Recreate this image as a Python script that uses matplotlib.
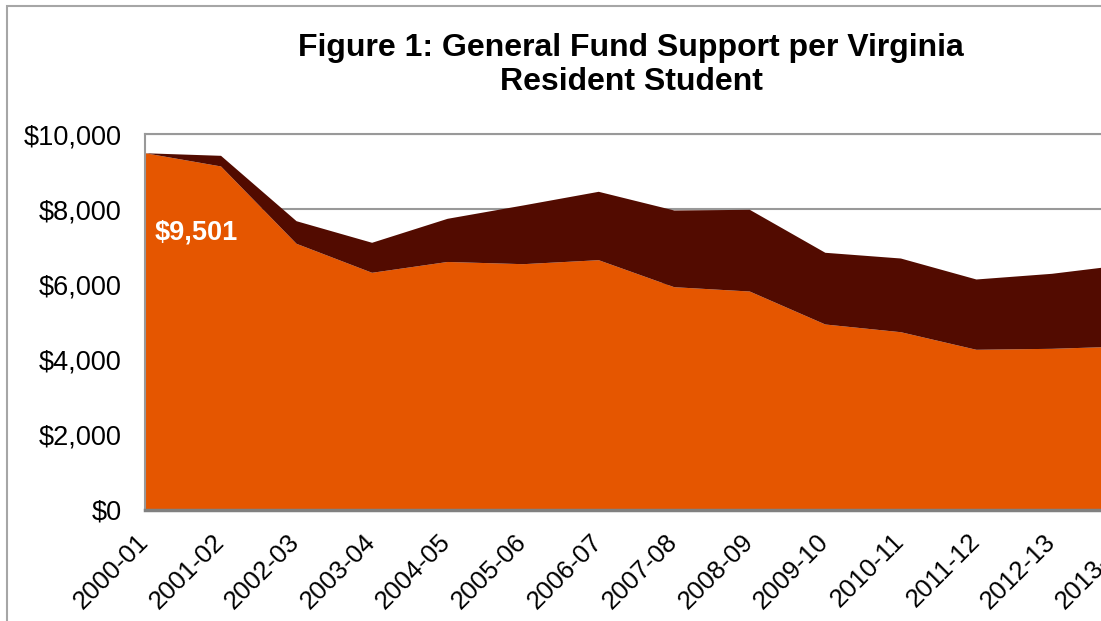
"""Figure 1: General Fund support per Virginia resident student (stacked area)."""
import numpy as np
import matplotlib
matplotlib.use("Agg")
import matplotlib.pyplot as plt
from matplotlib.patches import Rectangle

plt.rcParams["font.family"] = ["Liberation Sans", "DejaVu Sans"]

years = ["2000-01", "2001-02", "2002-03", "2003-04", "2004-05", "2005-06",
         "2006-07", "2007-08", "2008-09", "2009-10", "2010-11", "2011-12",
         "2012-13", "2013-14"]
# lower (orange) series and top of the stack (dark band)
adjusted = [9501, 9150, 7093, 6322, 6610, 6551, 6657, 5939, 5824, 4947,
            4742, 4274, 4300, 4364]
nominal = [9501, 9433, 7694, 7120, 7758, 8112, 8476, 7979, 7997, 6854,
           6702, 6144, 6295, 6540]

ORANGE = "#E55600"
DARK = "#520B00"

W, H = 1101, 621
fig = plt.figure(figsize=(W / 100, H / 100), dpi=100)
# plot area runs past the right edge of the image, as in the source crop
left, right, top, bottom = 145, 1127, 134, 510
ax = fig.add_axes([left / W, 1 - bottom / H, (right - left) / W, (bottom - top) / H])

x = np.arange(len(years))
ax.fill_between(x, 0, adjusted, color=ORANGE, linewidth=0, zorder=2)
ax.fill_between(x, adjusted, nominal, color=DARK, linewidth=0, zorder=2)

ax.set_xlim(0, len(years) - 1)
ax.set_ylim(0, 10000)
ax.set_yticks(np.arange(0, 10001, 2000))
ax.set_yticklabels([f"${v:,.0f}" for v in np.arange(0, 10001, 2000)], fontsize=19.5)
ax.yaxis.grid(True, color="#999999", linewidth=1.5, zorder=1)
ax.set_axisbelow(True)
ax.tick_params(axis="both", length=0)
ax.tick_params(axis="y", pad=17)

ax.set_xticks(x)
ax.set_xticklabels(years, fontsize=18.5, rotation=45, ha="right", va="center",
                   rotation_mode="anchor")
ax.tick_params(axis="x", pad=20)

for s in ("top", "left"):
    ax.spines[s].set_color("#999999")
    ax.spines[s].set_linewidth(1.5)
ax.spines["bottom"].set_color("#808080")
ax.spines["bottom"].set_linewidth(2.5)
ax.spines["bottom"].set_zorder(3)
ax.spines["right"].set_visible(False)

ax.text(0.13, 7390, f"${adjusted[0]:,}", color="white", fontsize=19.5,
        fontweight="bold", ha="left", va="center", zorder=4)

fig.text(631 / W, 1 - 65 / H, "Figure 1: General Fund Support per Virginia\nResident Student",
         ha="center", va="center", fontsize=23, fontweight="bold", linespacing=1.2)

# outer chart border (cropped on the right and bottom)
fig.add_artist(Rectangle((7 / W, -0.1), 1.2, 1 - 6 / H + 0.1, transform=fig.transFigure,
                         fill=False, edgecolor="#a6a6a6", linewidth=1.5))

fig.savefig("out.png", dpi=100)
